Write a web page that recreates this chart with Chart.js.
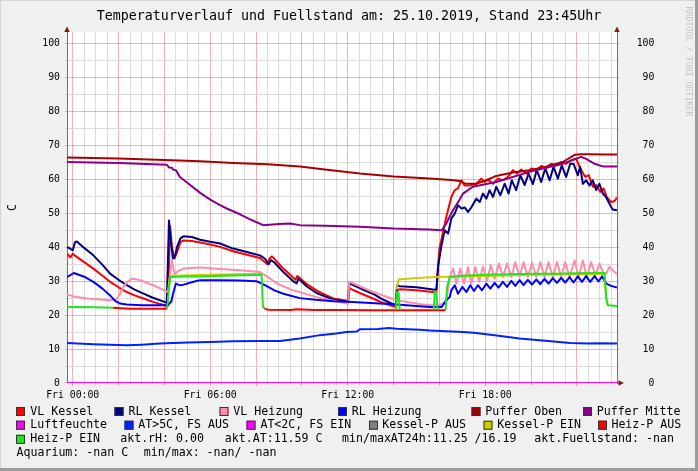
<!DOCTYPE html>
<html><head><meta charset="utf-8">
<script src="https://cdn.jsdelivr.net/npm/chart.js@4.4.1/dist/chart.umd.min.js"></script>
<style>html,body{margin:0;padding:0;background:#f0f0f0;overflow:hidden}canvas{display:block}</style>
</head><body>
<canvas id="c" width="698" height="471" style="width:698px;height:471px"></canvas>
<script>
const FONT = "'DejaVu Sans Mono', monospace";
const titleText = 'Temperaturverlauf und Fuellstand am: 25.10.2019, Stand 23:45Uhr';
const yAxisTitle = 'C';
const tickHours = [0, 6, 12, 18];
const tickLabels = ['Fri 00:00', 'Fri 06:00', 'Fri 12:00', 'Fri 18:00'];
const xMin = -0.25, xMax = 23.75;
const yMin = 0, yMax = 103.4;

// [hour, value]  (null value = gap)
const vlKessel = [[-0.25,38.1],[-0.1,37.0],[0.0,38.1],[0.1,37.5],[0.5,35.6],[0.9,33.7],[1.3,31.6],[1.63,29.8],[2.0,28.2],[2.36,26.8],[2.7,25.8],[3.09,24.9],[3.5,23.9],[4.0,22.9],[4.12,22.6],[4.18,30.0],[4.25,46.2],[4.33,40.0],[4.44,36.7],[4.55,38.5],[4.7,41.5],[4.83,42.0],[5.2,41.8],[5.56,41.4],[6.0,40.8],[6.43,40.1],[7.0,38.8],[7.6,37.8],[8.17,36.8],[8.35,35.8],[8.5,35.0],[8.6,36.8],[8.7,37.3],[8.85,36.2],[9.19,33.7],[9.5,31.8],[9.72,30.4],[9.8,31.5],[10.2,29.2],[10.64,27.3],[11.0,26.0],[11.37,24.9],[11.95,24.2],[12.02,24.2],[12.06,28.3],[12.1,27.8],[12.6,26.3],[13.1,24.9],[13.5,23.7],[13.98,22.6],[14.1,22.5],[14.15,27.5],[14.3,27.6],[15.0,27.3],[15.8,26.7],[15.87,26.8],[15.93,33.0],[16.0,39.6],[16.08,42.0],[16.3,48.9],[16.52,54.8],[16.67,56.8],[16.81,57.3],[16.96,59.7],[17.1,58.2],[17.32,58.2],[17.61,58.6],[17.83,60.2],[17.97,59.2],[18.12,59.9],[18.34,58.7],[18.55,60.2],[18.77,59.7],[18.99,60.7],[19.21,62.7],[19.38,61.7],[19.57,62.9],[19.79,61.7],[20.01,63.2],[20.23,62.5],[20.44,63.9],[20.66,63.5],[20.88,64.6],[21.1,64.1],[21.31,65.1],[21.53,64.6],[21.75,65.6],[21.97,66.1],[22.11,63.7],[22.23,62.2],[22.37,60.7],[22.52,61.2],[22.69,57.8],[22.84,58.3],[23.01,56.3],[23.16,57.3],[23.3,54.8],[23.49,53.3],[23.64,53.6],[23.75,54.6]];
const rlKessel = [[-0.25,40.1],[-0.1,39.5],[0.0,39.1],[0.1,41.5],[0.18,41.7],[0.5,39.8],[0.9,37.6],[1.3,34.8],[1.63,32.2],[2.0,30.4],[2.36,28.8],[2.7,27.5],[3.09,26.3],[3.5,25.1],[4.0,23.9],[4.1,23.6],[4.15,35.0],[4.2,47.9],[4.28,42.0],[4.37,36.7],[4.45,37.0],[4.55,40.0],[4.7,42.6],[4.83,43.2],[5.2,43.0],[5.56,42.2],[6.0,41.6],[6.43,41.1],[7.0,39.6],[7.6,38.6],[8.17,37.6],[8.39,36.6],[8.55,35.0],[8.65,36.2],[8.8,35.5],[9.19,32.7],[9.6,30.1],[9.77,29.3],[9.85,30.8],[10.2,28.5],[10.64,26.5],[11.0,25.5],[11.37,24.6],[11.95,24.0],[12.02,24.0],[12.06,29.5],[12.09,29.3],[12.6,27.7],[13.1,26.3],[13.5,24.7],[13.98,23.2],[14.1,23.0],[14.15,28.7],[14.27,28.5],[15.0,28.2],[15.8,27.5],[15.87,27.6],[15.94,34.2],[16.08,40.1],[16.23,45.0],[16.38,44.0],[16.52,48.4],[16.67,49.9],[16.81,52.4],[16.96,51.4],[17.1,51.7],[17.25,50.4],[17.39,51.7],[17.61,54.3],[17.76,53.3],[17.9,55.8],[18.05,54.3],[18.19,56.8],[18.34,54.8],[18.48,57.8],[18.66,55.3],[18.85,58.7],[19.02,55.8],[19.16,59.7],[19.35,56.8],[19.53,61.2],[19.72,58.3],[19.89,61.7],[20.08,58.6],[20.25,62.7],[20.44,59.2],[20.62,63.2],[20.81,59.7],[20.98,63.7],[21.17,60.2],[21.34,64.1],[21.53,60.7],[21.71,64.6],[21.85,64.6],[22.04,61.2],[22.14,63.7],[22.26,58.7],[22.4,59.7],[22.55,58.2],[22.69,59.7],[22.84,56.8],[22.98,58.7],[23.13,55.8],[23.27,54.8],[23.42,52.8],[23.56,51.1],[23.75,50.9]];
const vlHeizung = [[-0.25,26.0],[0.2,25.3],[0.62,24.9],[1.2,24.6],[1.63,24.4],[1.9,24.6],[2.05,26.0],[2.21,28.3],[2.4,29.9],[2.58,30.8],[2.94,30.3],[3.2,29.6],[3.52,28.8],[4.0,27.3],[4.15,26.8],[4.25,32.0],[4.32,36.2],[4.45,32.0],[4.6,33.0],[4.83,33.7],[5.56,34.0],[6.43,33.6],[7.3,33.2],[8.17,32.7],[8.6,30.8],[9.0,29.0],[9.62,27.3],[10.64,25.3],[11.95,23.4],[12.02,23.3],[12.06,29.8],[12.15,29.6],[13.1,26.8],[14.13,24.4],[15.2,23.2],[15.75,22.8],[16.0,22.9],[16.3,23.9],[16.45,31.2],[16.6,33.7],[16.74,29.3],[16.91,33.7],[17.07,29.3],[17.25,34.2],[17.39,29.3],[17.57,34.2],[17.73,29.8],[17.9,34.2],[18.08,30.2],[18.24,34.7],[18.41,30.7],[18.6,35.2],[18.77,31.2],[18.95,35.2],[19.14,31.2],[19.31,35.6],[19.5,31.2],[19.67,35.6],[19.86,31.2],[20.04,35.4],[20.23,31.2],[20.4,35.6],[20.59,31.2],[20.76,35.6],[20.95,31.2],[21.13,35.6],[21.31,31.2],[21.49,35.6],[21.68,31.2],[21.9,36.1],[22.08,31.2],[22.26,36.1],[22.43,31.2],[22.62,35.6],[22.81,31.7],[22.98,35.2],[23.13,32.7],[23.28,32.2],[23.42,34.2],[23.75,32.0]];
const rlHeizung = [[-0.25,31.2],[0.05,32.4],[0.5,31.3],[0.9,29.8],[1.3,27.8],[1.63,25.8],[1.85,24.2],[2.07,23.4],[2.36,23.1],[3.0,22.9],[4.0,22.9],[4.15,22.9],[4.3,24.0],[4.4,26.8],[4.5,29.3],[4.65,28.8],[4.8,28.9],[5.27,29.8],[5.56,30.3],[6.43,30.3],[7.3,30.2],[8.02,30.0],[8.39,28.8],[8.8,27.3],[9.19,26.3],[9.91,25.0],[10.6,24.5],[11.37,24.1],[12.0,23.9],[13.0,23.6],[14.0,23.2],[15.0,22.7],[15.58,22.4],[16.1,22.4],[16.3,24.4],[16.45,25.3],[16.52,27.3],[16.67,28.8],[16.81,26.3],[17.0,28.3],[17.18,26.8],[17.35,28.8],[17.51,27.1],[17.68,28.8],[17.86,27.3],[18.05,29.3],[18.22,27.8],[18.41,29.5],[18.58,28.1],[18.77,29.8],[18.95,28.3],[19.14,30.1],[19.31,28.6],[19.5,30.3],[19.67,28.8],[19.86,30.4],[20.04,29.0],[20.23,30.5],[20.4,29.1],[20.59,30.7],[20.76,29.3],[20.95,30.9],[21.13,29.5],[21.31,31.0],[21.49,29.6],[21.68,31.2],[21.85,29.6],[22.04,31.4],[22.22,29.8],[22.4,31.5],[22.58,29.8],[22.77,31.5],[22.94,29.9],[23.1,31.4],[23.28,29.3],[23.49,28.6],[23.75,28.1]];
const pufferOben = [[-0.25,66.4],[2.0,66.1],[4.0,65.7],[5.56,65.3],[7.0,64.8],[8.5,64.4],[9.91,63.8],[11.0,62.9],[12.53,61.7],[14.0,60.8],[15.58,60.2],[16.5,59.8],[16.9,59.5],[17.1,58.8],[17.6,58.7],[18.0,59.6],[18.48,61.0],[19.2,62.0],[19.93,62.7],[20.66,63.7],[21.39,65.1],[21.9,67.2],[22.2,67.4],[22.55,67.4],[23.2,67.3],[23.75,67.3]];
const pufferMitte = [[-0.25,65.1],[2.0,64.8],[4.1,64.3],[4.2,63.5],[4.32,63.4],[4.4,62.8],[4.5,62.7],[4.68,60.7],[5.0,59.0],[5.56,56.0],[6.0,54.0],[6.43,52.4],[6.72,51.4],[7.3,49.7],[7.8,48.0],[8.31,46.5],[9.0,46.8],[9.48,47.0],[9.91,46.5],[11.0,46.3],[12.53,46.0],[14.0,45.5],[15.58,45.2],[16.1,45.0],[16.3,47.0],[16.59,50.9],[16.88,54.0],[17.03,55.8],[17.46,57.8],[18.48,59.2],[19.93,62.2],[21.39,64.6],[22.19,66.6],[22.4,66.0],[22.8,64.5],[23.13,63.8],[23.75,63.8]];
const luftfeuchte = [[-0.25,0],[23.75,0]];
const atWarm = [[-0.25,11.8],[0.9,11.4],[2.36,11.1],[3.0,11.3],[3.8,11.6],[5.0,11.9],[6.0,12.1],[7.0,12.3],[8.17,12.4],[9.04,12.4],[9.91,13.1],[10.78,14.1],[11.5,14.6],[11.95,15.0],[12.4,15.2],[12.53,15.8],[13.3,15.9],[13.8,16.2],[14.13,16.0],[15.14,15.7],[15.58,15.5],[17.03,15.0],[17.5,14.8],[18.5,14.0],[19.5,13.1],[20.5,12.5],[21.7,11.8],[22.5,11.6],[23.0,11.7],[23.75,11.6]];
const atCold = [];
const kesselPAus = [];
const kesselPEin = [[4.2,28.0],[4.25,31.6],[5.56,31.8],[7.0,32.0],[8.24,32.2],[8.28,null],[14.13,27.5],[14.22,30.5],[15.0,30.9],[15.87,31.2],[16.3,31.3],[17.0,31.4],[20.0,31.9],[23.2,32.2],[23.28,25.0],[23.35,22.9]];
const heizPAus = [[1.75,22.2],[2.5,21.9],[4.12,21.9],[4.13,null],[8.36,22.0],[8.5,21.6],[9.5,21.5],[9.8,21.7],[10.5,21.5],[12.0,21.5],[13.0,21.4],[14.5,21.4],[15.5,21.4],[16.2,21.4],[16.27,21.5]];
const heizPEin = [[-0.25,22.4],[1.0,22.3],[1.75,22.2],[1.76,null],[4.12,21.9],[4.2,28.0],[4.25,31.2],[5.0,31.4],[5.56,31.4],[6.5,31.6],[7.0,31.7],[8.24,31.9],[8.3,22.4],[8.36,22.0],[8.37,null],[14.1,21.5],[14.15,26.8],[14.22,26.8],[14.27,21.5],[14.28,null],[15.75,21.5],[15.8,26.8],[15.87,26.8],[15.92,21.5],[15.93,null],[16.27,21.5],[16.33,28.0],[16.45,31.2],[17.0,31.6],[18.0,31.9],[19.0,32.0],[20.0,32.2],[21.0,32.2],[22.0,32.3],[23.0,32.4],[23.2,32.4],[23.28,25.0],[23.35,22.9],[23.75,22.7]];

const seriesNames = ['VL Kessel','RL Kessel','VL Heizung','RL Heizung','Puffer Oben','Puffer Mitte','Luftfeuchte','AT>5C, FS AUS','AT<2C, FS EIN','Kessel-P AUS','Kessel-P EIN','Heiz-P AUS','Heiz-P EIN'];
const seriesData = [vlKessel, rlKessel, vlHeizung, rlHeizung, pufferOben, pufferMitte, luftfeuchte, atWarm, atCold, kesselPAus, kesselPEin, heizPAus, heizPEin];
const seriesColors = ['#ff0000','#000080','#ff8cab','#0000ff','#a80000','#880088','#ff00ff','#0022ff','#ff00ff','#808080','#cccc00','#ff0000','#1ee61e'];

// text statistics shown in the legend
const statTexts = ['akt.rH: 0.00', 'akt.AT:11.59 C', 'min/maxAT24h:11.25 /16.19', 'akt.Fuellstand: -nan'];
const aquariumTexts = ['Aquarium: -nan C', 'min/max: -nan/ -nan'];

// legend layout (style only)
const legendRowsY = [411.5, 425.2, 439.3, 453.3];
const legendItems = [
  {s:0,row:0,bx:16,tx:30.3},{s:1,row:0,bx:114.5,tx:128.5},{s:2,row:0,bx:219.5,tx:233.3},{s:3,row:0,bx:338,tx:351.8},{s:4,row:0,bx:471.5,tx:485.3},{s:5,row:0,bx:583,tx:596.7},
  {s:6,row:1,bx:16,tx:30.3},{s:7,row:1,bx:124.5,tx:138.2},{s:8,row:1,bx:246.5,tx:260.4},{s:9,row:1,bx:369,tx:382.2},{s:10,row:1,bx:483.5,tx:497.3},{s:11,row:1,bx:598,tx:611.4},
  {s:12,row:2,bx:16,tx:30.3}
];
const statX = [120.2, 224.8, 342, 534.3];
const aquariumX = [16.5, 143.8];

const GRID_MINOR = '#dcdcdc';
const GRID_MAJOR = 'rgba(230,70,70,0.42)';

const rrdPlugin = {
  id: 'rrd',
  beforeDraw(chart) {
    const {ctx, chartArea: a, width, height} = chart;
    ctx.save();
    ctx.fillStyle = '#f0f0f0';
    ctx.fillRect(0, 0, width, height);
    ctx.fillStyle = '#d6d6d6';
    ctx.fillRect(0, 0, width, 1);
    ctx.fillRect(0, 0, 1, height);
    ctx.fillStyle = '#9c9c9c';
    ctx.fillRect(width - 3, 0, 3, height);
    ctx.fillRect(0, height - 3, width, 3);
    ctx.fillStyle = '#ffffff';
    ctx.fillRect(a.left, a.top, a.right - a.left, a.bottom - a.top);
    ctx.restore();
  },
  afterDraw(chart) {
    const {ctx, chartArea: a} = chart;
    ctx.save();
    // arrows
    ctx.fillStyle = '#801818';
    const tri = (p) => { ctx.beginPath(); ctx.moveTo(p[0],p[1]); ctx.lineTo(p[2],p[3]); ctx.lineTo(p[4],p[5]); ctx.closePath(); ctx.fill(); };
    tri([a.left, a.top - 5.5, a.left - 2.7, a.top, a.left + 2.7, a.top]);
    tri([a.right, a.top - 5.5, a.right - 2.7, a.top, a.right + 2.7, a.top]);
    ctx.strokeStyle = '#707070'; ctx.lineWidth = 1;
    ctx.beginPath(); ctx.moveTo(a.right, a.bottom + 0.5); ctx.lineTo(a.right + 2, a.bottom + 0.5); ctx.stroke();
    tri([a.right + 7, a.bottom, a.right + 1.5, a.bottom - 2.7, a.right + 1.5, a.bottom + 2.7]);

    // legend
    ctx.font = '11.6px ' + FONT;
    ctx.textBaseline = 'middle';
    ctx.textAlign = 'left';
    legendItems.forEach(it => {
      const y = legendRowsY[it.row];
      ctx.fillStyle = seriesColors[it.s];
      ctx.fillRect(it.bx, y - 4.5, 9, 9);
      ctx.strokeStyle = '#333';
      ctx.lineWidth = 1;
      ctx.strokeRect(it.bx + 0.5, y - 4, 8, 8);
      ctx.fillStyle = '#000';
      ctx.fillText(seriesNames[it.s], it.tx, y);
    });
    ctx.fillStyle = '#000';
    statTexts.forEach((t, i) => ctx.fillText(t, statX[i], legendRowsY[2]));
    aquariumTexts.forEach((t, i) => ctx.fillText(t, aquariumX[i], legendRowsY[3]));

    // watermark
    ctx.translate(688, 6.5);
    ctx.rotate(Math.PI / 2);
    ctx.font = '8.3px ' + FONT;
    ctx.fillStyle = '#c4c4c4';
    ctx.textBaseline = 'middle';
    ctx.fillText('RRDTOOL / TOBI OETIKER', 0, 0);
    ctx.restore();
  }
};

Chart.defaults.font.family = FONT;
Chart.defaults.color = '#000';

const datasets = seriesData.map((arr, i) => ({
  label: seriesNames[i],
  data: arr.map(p => ({x: p[0], y: p[1]})),
  borderColor: seriesColors[i],
  backgroundColor: seriesColors[i],
  borderWidth: 2,
  pointRadius: 0,
  tension: 0,
  fill: false,
  spanGaps: false,
  borderJoinStyle: 'round',
  order: 100 - i
}));

const gridY = ctx => (ctx.tick && ctx.tick.value % 10 === 0) ? GRID_MAJOR : GRID_MINOR;
const gridX = ctx => (ctx.tick && ctx.tick.value % 2 === 0) ? GRID_MAJOR : GRID_MINOR;
const yTicks = s => { const t = []; for (let v = 0; v <= 100; v += 5) t.push({value: v}); s.ticks = t; };

new Chart(document.getElementById('c'), {
  type: 'line',
  data: { datasets },
  options: {
    responsive: false,
    devicePixelRatio: 1,
    animation: false,
    events: [],
    layout: { padding: { left: 0, right: 0, top: 0, bottom: 68 } },
    plugins: {
      legend: { display: false },
      tooltip: { enabled: false },
      title: {
        display: true, text: titleText, color: '#000',
        font: { family: FONT, size: 13.3, weight: 'normal' },
        padding: { top: 9, bottom: 7 }
      }
    },
    scales: {
      x: {
        type: 'linear', min: xMin, max: xMax,
        afterBuildTicks: s => { const t = []; for (let h = 0; h <= 23.5; h += 0.5) t.push({value: h}); s.ticks = t; },
        afterFit: s => { s.height = 20; },
        ticks: {
          autoSkip: false, maxRotation: 0, minRotation: 0, padding: 4, color: '#000',
          font: { family: FONT, size: 9.8 },
          callback: v => { const i = tickHours.indexOf(v); return i >= 0 ? tickLabels[i] : ''; }
        },
        grid: { color: gridX, lineWidth: 1, drawTicks: true, tickLength: 3 },
        border: { display: true, color: '#707070', width: 1 }
      },
      y: {
        type: 'linear', position: 'left', min: yMin, max: yMax,
        afterBuildTicks: yTicks,
        afterFit: s => { s.width = 67; },
        ticks: {
          autoSkip: false, padding: 5, color: '#000',
          font: { family: FONT, size: 9.8 },
          callback: v => (v % 10 === 0 ? String(v) : '')
        },
        grid: { color: gridY, lineWidth: 1, drawTicks: true, tickLength: 2 },
        border: { display: true, color: '#707070', width: 1 },
        title: { display: true, text: yAxisTitle, color: '#000', font: { family: FONT, size: 11.6 }, padding: { top: 6, bottom: 0 } }
      },
      y2: {
        type: 'linear', position: 'right', min: yMin, max: yMax,
        afterBuildTicks: yTicks,
        afterFit: s => { s.width = 81; },
        ticks: {
          autoSkip: false, padding: 17.7, color: '#000', crossAlign: 'near',
          font: { family: FONT, size: 9.8 },
          callback: v => (v % 10 === 0 ? String(v).padStart(3, ' ') : '')
        },
        grid: { color: gridY, lineWidth: 1, drawOnChartArea: false, drawTicks: true, tickLength: 2 },
        border: { display: true, color: '#707070', width: 1 }
      }
    }
  },
  plugins: [rrdPlugin]
});
</script>
</body></html>
